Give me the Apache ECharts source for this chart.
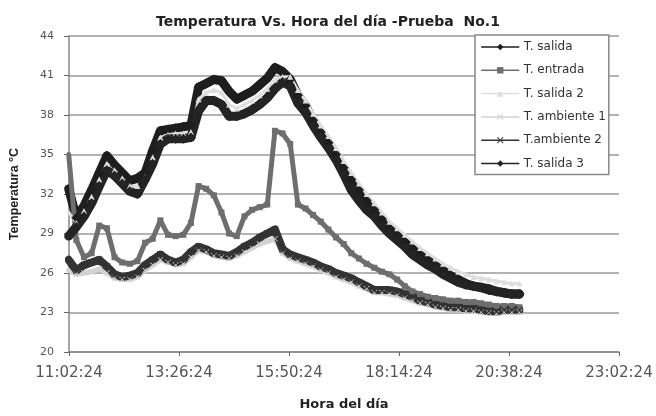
<!DOCTYPE html>
<html>
<head>
<meta charset="utf-8">
<script src="https://cdn.jsdelivr.net/npm/echarts@6/dist/echarts.min.js"></script>
<style>
  html, body { margin: 0; padding: 0; background: #fff; }
  #chart { width: 656px; height: 416px; }
</style>
</head>
<body>
<div id="chart"></div>
<script>
// Hora de cada lectura (cada 10 min aprox.)
const horas = [
  '11:02','11:12','11:22','11:32','11:42','11:52','12:02','12:12','12:22','12:32',
  '12:42','12:52','13:02','13:12','13:22','13:32','13:42','13:52','14:02','14:12',
  '14:22','14:32','14:42','14:52','15:02','15:12','15:22','15:32','15:42','15:52',
  '16:02','16:12','16:22','16:32','16:42','16:52','17:02','17:12','17:22','17:32',
  '17:42','17:52','18:02','18:12','18:22','18:32','18:42','18:52','19:02','19:12',
  '19:22','19:32','19:42','19:52','20:02','20:12','20:22','20:32','20:42','20:52'
];

const tSalida = [
  32.4, 30.2, 31.1, 32.3, 33.6, 34.9, 34.2, 33.6, 33.0, 33.2,
  33.6, 35.3, 36.8, 36.9, 37.0, 37.1, 37.2, 40.1, 40.4, 40.7,
  40.6, 39.8, 39.2, 39.5, 39.8, 40.3, 40.8, 41.6, 41.3, 40.7,
  39.5, 38.7, 37.6, 36.7, 35.9, 35.0, 34.0, 33.1, 32.3, 31.5,
  30.8, 30.1, 29.4, 28.9, 28.4, 27.9, 27.4, 27.0, 26.6, 26.2,
  25.8, 25.5, 25.2, 25.0, 24.9, 24.7, 24.6, 24.5, 24.4, 24.4
];
const tEntrada = [
  35.0, 28.5, 27.2, 27.5, 29.6, 29.4, 27.2, 26.8, 26.7, 26.9,
  28.3, 28.6, 30.0, 28.9, 28.8, 28.9, 29.8, 32.6, 32.4, 31.9,
  30.6, 29.0, 28.8, 30.3, 30.8, 31.0, 31.2, 36.8, 36.6, 35.8,
  31.2, 30.9, 30.4, 29.9, 29.3, 28.7, 28.2, 27.5, 27.1, 26.7,
  26.4, 26.1, 25.9, 25.5, 25.0, 24.6, 24.4, 24.2, 24.1, 24.0,
  23.9, 23.9, 23.8, 23.8, 23.7, 23.6, 23.5, 23.5, 23.5, 23.4
];
const tSalida2 = [
  30.6, 29.8, 30.7, 31.8, 33.1, 34.3, 33.8, 33.2, 32.6, 32.6,
  33.3, 34.8, 36.3, 36.5, 36.6, 36.6, 36.7, 39.2, 39.7, 39.9,
  39.7, 38.8, 38.5, 38.8, 39.1, 39.5, 40.0, 40.7, 40.9, 40.9,
  39.9, 39.1, 38.1, 37.2, 36.4, 35.5, 34.5, 33.6, 32.8, 32.0,
  31.3, 30.6, 29.9, 29.4, 28.9, 28.4, 27.9, 27.5, 27.1, 26.7,
  26.4, 26.1, 25.9, 25.7, 25.6, 25.5, 25.4, 25.3, 25.2, 25.2
];
const tAmbiente1 = [
  26.2, 25.9, 26.0, 26.1, 26.3, 26.0, 25.6, 25.5, 25.5, 25.7,
  26.2, 26.6, 27.0, 26.8, 26.6, 26.7, 27.2, 27.7, 27.6, 27.3,
  27.2, 27.1, 27.3, 27.6, 27.9, 28.2, 28.4, 28.6, 27.5, 27.1,
  26.9, 26.7, 26.5, 26.2, 26.0, 25.7, 25.5, 25.3, 25.0, 24.8,
  24.5, 24.5, 24.4, 24.3, 24.1, 23.9, 23.7, 23.6, 23.4, 23.3,
  23.2, 23.2, 23.1, 23.1, 23.0, 23.0, 22.9, 23.0, 23.0, 23.0
];
const tAmbiente2 = [
  27.0, 26.2, 26.6, 26.8, 27.0, 26.5, 25.9, 25.7, 25.8, 26.0,
  26.6, 27.0, 27.4, 27.0, 26.8, 27.0, 27.6, 28.0, 27.8, 27.5,
  27.4, 27.3, 27.6, 28.0, 28.3, 28.7, 29.0, 29.3, 27.8, 27.4,
  27.2, 27.0, 26.8, 26.5, 26.3, 26.0, 25.8, 25.6, 25.3, 25.0,
  24.7, 24.7, 24.7, 24.6, 24.4, 24.2, 23.9, 23.8, 23.6, 23.5,
  23.4, 23.4, 23.3, 23.3, 23.2, 23.1, 23.1, 23.2, 23.2, 23.2
];
const tSalida3 = [
  28.8, 29.5, 30.3, 31.3, 32.6, 33.8, 33.4, 32.8, 32.2, 32.0,
  33.1, 34.3, 35.8, 36.2, 36.2, 36.2, 36.3, 38.3, 39.1, 39.1,
  38.8, 37.9, 37.9, 38.1, 38.4, 38.8, 39.3, 40.0, 40.5, 40.2,
  38.9, 38.2, 37.2, 36.3, 35.5, 34.6, 33.5, 32.3, 31.5, 30.8,
  30.3, 29.6, 29.0, 28.5, 28.0, 27.4, 27.0, 26.6, 26.3, 25.9,
  25.6, 25.3, 25.1, 25.0, 24.9, 24.8, 24.6, 24.5, 24.4, 24.4
];

// eje x: 11:02:24 a 23:02:24, cada 2:24:00 (en segundos del dia)
const ejeMin = 39744, ejeMax = 82944, ejePaso = 8640;

function aSegundos(h) {
  const [hh, mm] = h.split(':').map(Number);
  return hh * 3600 + mm * 60;
}
function etiquetaHora(s) {
  const h = Math.floor(s / 3600);
  const m = Math.floor((s % 3600) / 60);
  const sg = Math.round(s % 60);
  return h + ':' + String(m).padStart(2, '0') + ':' + String(sg).padStart(2, '0');
}
const pares = vals => horas.map((h, i) => [aSegundos(h), vals[i]]);

const cruz = 'path://M0,1L1,0L5,4L9,0L10,1L6,5L10,9L9,10L5,6L1,10L0,9L4,5Z';

function serie(nombre, datos, color, simbolo, tam, ancho) {
  return {
    name: nombre,
    type: 'line',
    data: pares(datos),
    symbol: simbolo,
    symbolSize: tam,
    lineStyle: { color: color, width: ancho, join: 'round', cap: 'round' },
    itemStyle: { color: color },
    emphasis: { disabled: true }
  };
}

const chart = echarts.init(document.getElementById('chart'));

chart.setOption({
  animation: false,
  backgroundColor: '#fff',
  title: {
    text: 'Temperatura Vs. Hora del día -Prueba  No.1',
    left: 'center',
    top: 10,
    textStyle: { fontFamily: 'DejaVu Sans', fontSize: 14, fontWeight: 'bold', color: '#222' }
  },
  grid: { left: 65, right: 37, top: 36, bottom: 54 },
  legend: {
    orient: 'vertical',
    left: 475,
    top: 35,
    padding: [5, 3, 4, 6],
    itemGap: 9.3,
    itemWidth: 37,
    itemHeight: 8,
    selectedMode: false,
    backgroundColor: '#fff',
    borderColor: '#888',
    borderWidth: 1.5,
    lineStyle: { width: 1.5 },
    textStyle: { fontFamily: 'DejaVu Sans', fontSize: 12, color: '#333', lineHeight: 14 }
  },
  xAxis: {
    type: 'value',
    min: ejeMin,
    max: ejeMax,
    interval: ejePaso,
    name: 'Hora del día',
    nameLocation: 'middle',
    nameGap: 46,
    nameTextStyle: { fontFamily: 'DejaVu Sans', fontSize: 13, fontWeight: 'bold', color: '#222' },
    axisLine: { lineStyle: { color: '#888', width: 1.5 } },
    axisTick: { show: true, length: 4, lineStyle: { color: '#666' } },
    axisLabel: {
      fontFamily: 'DejaVu Sans', fontSize: 15, color: '#555', margin: 14,
      formatter: v => etiquetaHora(v)
    },
    splitLine: { show: false }
  },
  yAxis: {
    type: 'value',
    min: 20,
    max: 44,
    interval: 3,
    name: 'Temperatura °C',
    nameLocation: 'middle',
    nameGap: 48,
    nameTextStyle: { fontFamily: 'Liberation Sans', fontSize: 12.5, fontWeight: 'bold', color: '#222' },
    axisLine: { show: true, lineStyle: { color: '#888', width: 1.5 } },
    axisTick: { show: true, length: 5, lineStyle: { color: '#666' } },
    axisLabel: { fontFamily: 'DejaVu Sans', fontSize: 11, color: '#555', margin: 15 },
    splitLine: { lineStyle: { color: '#9a9a9a', width: 1.5 } }
  },
  series: [
    serie('T. salida', tSalida, '#1e1e1e', 'diamond', 10, 9),
    serie('T. entrada', tEntrada, '#6e6e6e', 'rect', 6, 5),
    serie('T. salida 2', tSalida2, '#dedede', 'triangle', 6, 3),
    serie('T. ambiente 1', tAmbiente1, '#d2d2d2', cruz, 6, 5),
    serie('T.ambiente 2', tAmbiente2, '#333333', cruz, 7, 8),
    serie('T. salida 3', tSalida3, '#242424', 'diamond', 10, 9)
  ]
});
</script>
</body>
</html>
